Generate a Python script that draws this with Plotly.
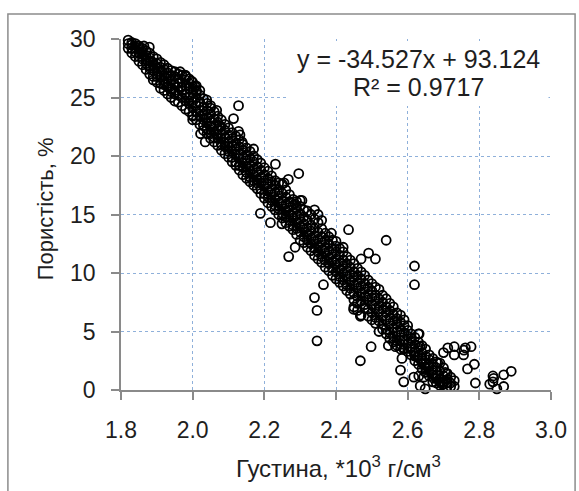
import plotly.graph_objects as go

# Linear trend reported on the chart
slope = -34.527
intercept = 93.124
r_squared = 0.9717

# Main band of samples: density value and the porosities measured at it
density_steps = [
    1.82, 1.83, 1.84, 1.85, 1.86, 1.87, 1.88, 1.89, 1.90, 1.91,
    1.92, 1.93, 1.94, 1.95, 1.96, 1.97, 1.98, 1.99, 2.00, 2.01,
    2.02, 2.03, 2.04, 2.05, 2.06, 2.07, 2.08, 2.09, 2.10, 2.11,
    2.12, 2.13, 2.14, 2.15, 2.16, 2.17, 2.18, 2.19, 2.20, 2.21,
    2.22, 2.23, 2.24, 2.25, 2.26, 2.27, 2.28, 2.29, 2.30, 2.31,
    2.32, 2.33, 2.34, 2.35, 2.36, 2.37, 2.38, 2.39, 2.40, 2.41,
    2.42, 2.43, 2.44, 2.45, 2.46, 2.47, 2.48, 2.49, 2.50, 2.51,
    2.52, 2.53, 2.54, 2.55, 2.56, 2.57, 2.58, 2.59, 2.60, 2.61,
    2.62, 2.63, 2.64, 2.65, 2.66, 2.67, 2.68, 2.69, 2.70, 2.71,
    2.72, 2.73,
]
porosity_at_step = [
    [29.9, 29.6, 29.2], [29.5, 29.2, 29.7, 28.8], [29.3, 28.9, 28.5, 29.6],
    [28.8, 29.1, 28.5, 28.1, 29.4], [28.7, 28.3, 28.9, 27.8, 29.2],
    [28.2, 28.6, 27.9, 27.4, 29.0], [28.1, 27.7, 28.4, 27.5, 27.0, 28.8],
    [27.8, 27.3, 28.0, 26.8, 28.5, 26.5], [27.5, 27.0, 27.9, 26.8, 26.3, 28.3],
    [27.2, 26.7, 27.6, 26.2, 28.0, 25.8], [26.9, 26.4, 27.4, 26.1, 25.6, 27.8],
    [26.6, 26.2, 27.1, 25.9, 25.3, 27.5], [26.4, 25.8, 26.9, 25.5, 25.0, 27.3],
    [26.1, 25.6, 26.8, 25.3, 24.7, 27.2], [25.9, 25.2, 26.6, 27.0, 24.6, 26.2],
    [25.6, 25.0, 26.3, 26.9, 24.3, 25.9], [25.3, 24.7, 26.0, 26.5, 24.0, 26.9],
    [25.0, 24.5, 25.8, 26.2, 23.8, 26.6], [24.6, 24.1, 25.4, 25.9, 23.4, 26.3, 25.0],
    [24.3, 23.8, 25.0, 25.6, 23.1, 26.0], [23.9, 23.4, 24.6, 25.2, 22.7, 25.6],
    [23.6, 23.1, 24.2, 22.6, 24.9, 22.2], [23.3, 22.8, 23.9, 22.3, 24.5, 21.9],
    [23.0, 22.5, 23.6, 22.0, 24.1, 21.5], [22.6, 22.1, 23.2, 21.6, 23.8, 21.2],
    [22.3, 21.8, 22.9, 21.5, 23.4, 20.9], [21.9, 21.5, 22.5, 21.0, 23.1, 20.5],
    [21.6, 21.1, 22.2, 20.8, 22.7, 20.2], [21.2, 20.8, 21.8, 20.4, 22.4, 19.9],
    [20.9, 20.4, 21.5, 19.9, 22.0, 19.5], [20.6, 20.1, 21.1, 19.5, 21.7, 19.2],
    [20.2, 19.8, 20.8, 19.2, 21.4, 18.8], [19.9, 19.4, 20.5, 19.0, 21.0, 18.4],
    [19.6, 19.1, 20.1, 18.6, 20.7, 18.1], [19.2, 18.7, 19.8, 20.4, 18.2, 17.8],
    [18.9, 18.4, 19.5, 17.5, 20.0, 17.9], [18.6, 18.0, 19.1, 17.7, 19.7, 17.2],
    [18.2, 17.7, 18.8, 17.2, 19.4, 16.8], [17.9, 17.4, 18.4, 16.8, 19.0, 16.4],
    [17.6, 17.0, 18.1, 16.5, 18.7, 16.0], [17.2, 16.7, 17.8, 16.2, 18.3, 15.7],
    [16.9, 16.3, 17.5, 15.8, 17.9, 15.4], [16.6, 16.0, 17.1, 15.5, 17.7, 15.0],
    [16.2, 15.7, 16.8, 15.1, 17.6, 14.7], [15.9, 15.3, 16.5, 14.8, 17.1, 14.3],
    [15.6, 15.0, 16.1, 14.5, 16.7, 14.0], [15.2, 14.7, 15.8, 14.1, 16.3, 13.7],
    [14.9, 14.3, 15.5, 13.8, 16.1, 13.3], [14.6, 14.0, 15.1, 13.5, 15.7, 12.8, 16.2],
    [14.2, 13.7, 14.8, 13.1, 15.4, 12.6], [13.9, 13.3, 14.5, 12.8, 15.3, 12.2],
    [13.6, 13.0, 14.1, 12.5, 15.0, 11.9], [13.2, 12.7, 13.8, 12.1, 14.6, 11.5, 15.4],
    [12.9, 12.3, 13.5, 11.8, 14.3, 11.2, 15.0], [12.6, 12.0, 13.1, 11.4, 13.8, 10.9, 14.5],
    [12.2, 11.7, 12.8, 11.1, 13.4, 10.5], [11.9, 11.3, 12.5, 10.8, 13.1, 10.2],
    [11.6, 11.0, 12.1, 10.4, 12.8, 9.8], [11.2, 10.7, 11.8, 10.1, 12.3, 9.5, 12.7],
    [10.9, 10.3, 11.5, 9.7, 12.1, 9.2], [10.6, 10.0, 11.1, 9.4, 11.8, 8.9, 12.2],
    [10.2, 9.7, 10.8, 9.0, 8.5, 11.4], [9.9, 9.3, 10.5, 8.7, 8.2, 11.1],
    [9.6, 9.0, 10.1, 8.3, 7.1, 10.8, 7.7], [9.2, 8.7, 9.8, 8.0, 6.8, 10.4, 7.4],
    [8.9, 8.3, 9.5, 7.6, 6.4, 10.1], [8.6, 8.0, 9.1, 7.3, 7.0, 9.8],
    [8.2, 7.7, 8.8, 6.9, 9.4, 6.3], [7.9, 7.3, 8.5, 6.6, 6.0, 9.1],
    [7.6, 7.0, 8.1, 6.2, 5.7, 8.8], [7.2, 6.7, 7.8, 5.9, 8.6, 5.0],
    [6.9, 6.3, 7.5, 5.6, 8.1, 5.2], [6.6, 6.0, 7.1, 5.2, 7.8, 4.8],
    [6.2, 5.7, 6.8, 4.9, 4.4, 7.4], [5.9, 5.3, 6.5, 4.6, 7.1, 4.1],
    [5.6, 5.0, 6.1, 4.2, 6.6, 3.8], [5.2, 4.7, 5.8, 3.9, 6.4, 3.5],
    [4.9, 4.3, 5.5, 3.6, 6.0], [4.6, 4.0, 5.1, 5.5, 3.3], [4.2, 3.7, 4.8, 3.0],
    [3.9, 3.3, 4.5, 2.9, 2.5], [3.6, 3.0, 4.1, 4.8, 2.2], [3.2, 2.7, 3.8, 2.3, 1.8],
    [2.9, 2.3, 3.5, 1.9, 1.5], [2.6, 2.0, 1.6, 1.2, 3.0], [2.2, 1.7, 1.3, 0.7, 2.7],
    [1.9, 1.3, 1.0, 0.6, 2.4], [1.6, 1.0, 0.7, 2.3, 0.4], [1.2, 0.7, 1.9, 0.5],
    [0.9, 1.4, 0.6, 0.3], [0.6, 1.1, 0.3], [0.3, 0.8],
]

# Samples lying away from the main band
density_spread = [
    1.848, 1.864, 1.879, 1.965, 1.980, 1.997, 2.006, 2.011, 2.039, 2.050,
    2.067, 2.000, 2.000, 2.022, 2.035, 2.075, 2.128, 2.114, 2.128, 2.132,
    2.138, 2.170, 2.231, 2.296, 2.267, 2.255, 2.189, 2.217, 2.249, 2.268,
    2.286, 2.305, 2.286, 2.387, 2.435, 2.540, 2.491, 2.510, 2.470, 2.619,
    2.619, 2.365, 2.340, 2.347, 2.347, 2.449, 2.468, 2.498, 2.468, 2.546,
    2.566, 2.589, 2.579, 2.610, 2.632, 2.635, 2.627, 2.584, 2.580, 2.589,
    2.617, 2.631, 2.645, 2.635, 2.649, 2.657, 2.672, 2.684, 2.691, 2.705,
    2.699, 2.710, 2.700, 2.712, 2.730, 2.730, 2.756, 2.761, 2.777, 2.757,
    2.767, 2.786, 2.789, 2.829, 2.840, 2.838, 2.838, 2.849, 2.868, 2.868,
    2.889,
]
porosity_spread = [
    29.4, 29.4, 29.3, 27.2, 26.8, 26.4, 26.0, 25.5, 24.8, 24.3,
    23.9, 23.5, 23.1, 21.9, 21.2, 22.6, 24.3, 23.2, 22.1, 21.8,
    21.2, 20.6, 19.3, 18.5, 18.0, 17.7, 15.1, 14.3, 14.2, 11.4,
    12.2, 16.2, 15.9, 13.4, 13.7, 12.8, 11.7, 11.2, 11.2, 10.6,
    9.0, 9.0, 7.9, 6.8, 4.2, 6.9, 6.3, 3.7, 2.5, 3.8,
    3.7, 3.5, 4.2, 4.4, 4.8, 3.7, 2.8, 2.7, 1.7, 0.7,
    1.1, 1.2, 1.1, 0.35, 0.1, 2.1, 1.0, 2.3, 0.7, 1.5,
    0.7, 1.4, 3.2, 3.6, 3.7, 3.0, 3.0, 3.6, 3.7, 3.4,
    1.8, 2.2, 0.6, 0.5, 1.0, 0.7, 1.2, 0.1, 0.3, 1.3,
    1.6,
]

x_ticks = [1.8, 2.0, 2.2, 2.4, 2.6, 2.8, 3.0]
y_ticks = [0, 5, 10, 15, 20, 25, 30]
x_range = [1.8, 3.0]
y_range = [0, 30]

density = []
porosity = []
for d, values in zip(density_steps, porosity_at_step):
    for p in values:
        density.append(d)
        porosity.append(p)
density += density_spread
porosity += porosity_spread

# Trend line limited to the visible porosity range
x_start = (y_range[1] - intercept) / slope
x_end = (y_range[0] - intercept) / slope
trend_x = [x_start, x_end]
trend_y = [slope * v + intercept for v in trend_x]

FONT = "Liberation Sans, Arial, sans-serif"
TEXT = "#1e1e1e"
AXIS = "#8a8a8a"
GRID = "#8fb0da"

fig = go.Figure()
fig.add_trace(go.Scatter(
    x=density, y=porosity, mode="markers", cliponaxis=False,
    marker=dict(symbol="circle-open", size=9, color="black",
                line=dict(width=1.8, color="black")),
    hoverinfo="x+y",
))
fig.add_trace(go.Scatter(
    x=trend_x, y=trend_y, mode="lines",
    line=dict(color="black", width=3),
    hoverinfo="skip",
))

axis_common = dict(
    showgrid=True, gridcolor=GRID, gridwidth=1, griddash="3px,3px",
    showline=True, linecolor=AXIS, linewidth=1.5,
    ticks="outside", ticklen=8, tickwidth=1.5, tickcolor=AXIS,
    tickfont=dict(family=FONT, size=23, color=TEXT),
    zeroline=False, fixedrange=True,
)

fig.update_layout(
    width=579, height=491,
    margin=dict(l=121, r=28, t=39, b=101),
    paper_bgcolor="white", plot_bgcolor="white",
    showlegend=False,
    xaxis=dict(range=x_range, tickvals=x_ticks, tickformat=".1f",
               ticklabelstandoff=11, **axis_common),
    yaxis=dict(range=y_range, tickvals=y_ticks,
               ticklabelstandoff=11, **axis_common),
    shapes=[
        # outer chart frame
        dict(type="rect", xref="paper", yref="paper",
             x0=-0.263, x1=1.056, y0=-0.6, y1=1.071,
             line=dict(color="#8c8c8c", width=1.5), fillcolor="rgba(0,0,0,0)",
             layer="above"),
        # white backing of the equation label
        dict(type="rect", xref="x", yref="y",
             x0=2.267, x1=2.993, y0=24.27, y1=29.83,
             line=dict(width=0), fillcolor="white", layer="between"),
    ],
    annotations=[
        dict(text=f"y = {slope:.3f}x + {intercept:.3f}", xref="paper", yref="paper",
             x=0.692, y=0.943, xanchor="center", yanchor="middle", showarrow=False,
             font=dict(family=FONT, size=25, color=TEXT)),
        dict(text=f"R² = {r_squared:.4f}", xref="paper", yref="paper",
             x=0.692, y=0.863, xanchor="center", yanchor="middle", showarrow=False,
             font=dict(family=FONT, size=25, color=TEXT)),
        dict(text="Густина, *10<sup>3</sup> г/см<sup>3</sup>", xref="paper", yref="paper",
             x=0.5065, y=-0.219, xanchor="center", yanchor="middle", showarrow=False,
             font=dict(family=FONT, size=24, color=TEXT)),
        dict(text="Пористість, %", xref="paper", yref="paper", textangle=-90,
             x=-0.1737, y=0.5157, xanchor="center", yanchor="middle", showarrow=False,
             font=dict(family=FONT, size=22, color=TEXT)),
    ],
)

fig.write_html("out.html")
